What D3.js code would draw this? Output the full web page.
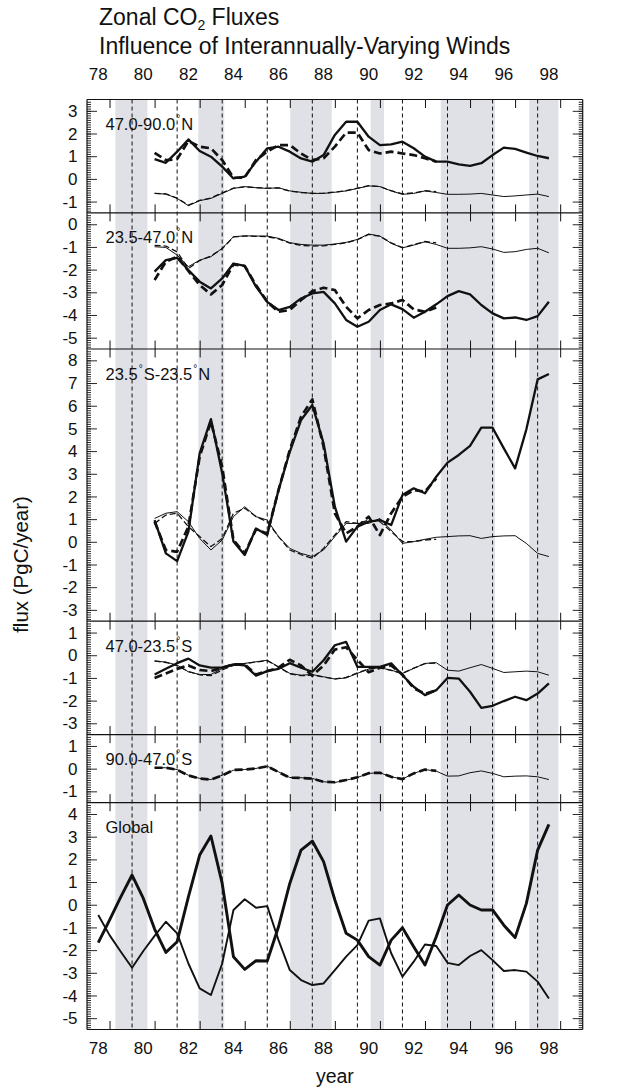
<!DOCTYPE html>
<html>
<head>
<meta charset="utf-8">
<script src="https://cdn.jsdelivr.net/npm/d3@7"></script>
<style>
  html, body { margin: 0; padding: 0; background: #fff; }
  svg { display: block; }
  text { font-family: "Liberation Sans", Arial, Helvetica, sans-serif; fill: #111; }
</style>
</head>
<body>
<div id="chart"></div>
<script>
// ---- Data -----------------------------------------------------------------
// Sampling years (two-digit year, half-year steps)
const yearsFull = [80.5,81,81.5,82,82.5,83,83.5,84,84.5,85,85.5,86,86.5,87,87.5,88,88.5,89,89.5,90,90.5,91,91.5,92,92.5,93,93.5,94,94.5,95,95.5,96,96.5,97,97.5,98];
const yearsShort = [80.5,81,81.5,82,82.5,83,83.5,84,84.5,85,85.5,86,86.5,87,87.5,88,88.5,89,89.5,90,90.5,91,91.5,92,92.5,93];
const yearsGlobal = [78,78.5,79,79.5,80,80.5,81,81.5,82,82.5,83,83.5,84,84.5,85,85.5,86,86.5,87,87.5,88,88.5,89,89.5,90,90.5,91,91.5,92,92.5,93,93.5,94,94.5,95,95.5,96,96.5,97,97.5,98];

// Zone labels and y ranges (PgC/year)
const zoneLabels = ["47.0-90.0°N", "23.5-47.0°N", "23.5°S-23.5°N", "47.0-23.5°S", "90.0-47.0°S", "Global"];
const zoneRanges = [[-1.5, 3.5], [-5.5, 0.5], [-3.5, 8.5], [-3.5, 1.5], [-1.5, 1.5], [-5.5, 4.5]];

// 47.0-90.0 N
const n47SolidThick = [0.87,0.71,1.2,1.74,1.23,0.98,0.54,0.02,0.1,0.76,1.35,1.42,1.2,0.9,0.76,1.05,1.94,2.52,2.52,1.86,1.49,1.52,1.64,1.35,0.98,0.76,0.76,0.64,0.57,0.69,1.05,1.38,1.32,1.16,1.01,0.91];
const n47DashThick  = [1.15,0.83,0.87,1.67,1.42,1.35,0.83,0.05,0.06,0.83,1.2,1.49,1.49,1.12,0.83,0.91,1.42,2.04,2.04,1.27,1.12,1.2,1.12,1.05,0.91,0.76];
const n47SolidThin  = [-0.64,-0.67,-0.86,-1.18,-0.96,-0.86,-0.64,-0.42,-0.34,-0.39,-0.42,-0.39,-0.53,-0.59,-0.64,-0.64,-0.59,-0.53,-0.42,-0.31,-0.34,-0.53,-0.68,-0.64,-0.53,-0.6,-0.68,-0.68,-0.67,-0.64,-0.71,-0.78,-0.75,-0.71,-0.67,-0.78];
const n47DashThin   = [-0.64,-0.66,-0.85,-1.16,-0.95,-0.84,-0.62,-0.41,-0.35,-0.38,-0.41,-0.4,-0.54,-0.6,-0.64,-0.63,-0.58,-0.52,-0.41,-0.3,-0.34,-0.52,-0.66,-0.62,-0.52,-0.56];

// 23.5-47.0 N
const n23SolidThick = [-2.09,-1.58,-1.48,-2.02,-2.53,-2.83,-2.39,-1.73,-1.84,-2.75,-3.42,-3.78,-3.64,-3.27,-3.05,-2.98,-3.49,-4.22,-4.52,-4.3,-3.78,-3.53,-3.74,-4.12,-3.86,-3.53,-3.17,-2.95,-3.09,-3.56,-3.93,-4.15,-4.11,-4.22,-4.05,-3.42];
const n23DashThick  = [-2.46,-1.65,-1.43,-2.06,-2.68,-3.09,-2.68,-1.77,-1.84,-2.68,-3.42,-3.86,-3.78,-3.34,-2.95,-2.8,-2.9,-3.64,-4.15,-3.78,-3.56,-3.49,-3.34,-3.75,-3.86,-3.67];
const n23SolidThin  = [-0.99,-1.02,-1.36,-1.87,-1.58,-1.43,-1.06,-0.55,-0.51,-0.52,-0.52,-0.62,-0.81,-0.89,-0.92,-0.92,-0.87,-0.8,-0.67,-0.43,-0.52,-0.84,-1.04,-0.92,-0.77,-0.89,-1.06,-1.06,-1.04,-0.99,-1.09,-1.24,-1.21,-1.11,-1.06,-1.26];
const n23DashThin   = [-0.93,-0.96,-1.22,-1.95,-1.6,-1.4,-1.08,-0.56,-0.52,-0.53,-0.55,-0.64,-0.83,-0.93,-0.96,-0.95,-0.89,-0.82,-0.68,-0.45,-0.53,-0.82,-1.03,-0.9,-0.76,-0.82];

// 23.5 S - 23.5 N
const trSolidThick = [0.96,-0.51,-0.85,0.45,3.9,5.41,3.02,0.01,-0.58,0.59,0.3,2.28,3.97,5.37,6.03,4.34,1.55,0.01,0.67,0.89,0.96,0.74,2.06,2.36,2.14,2.87,3.49,3.83,4.23,5.03,5.03,4.12,3.24,4.96,7.16,7.4];
const trDashThick  = [0.89,-0.36,-0.44,0.67,3.75,5.3,3.31,0.08,-0.51,0.55,0.37,2.28,4.05,5.52,6.28,4.19,1.26,0.37,0.67,1.11,0.3,1.26,1.99,2.28,2.21,2.8];
const trSolidThin  = [1.03,1.26,1.33,0.89,0.15,-0.36,0.08,1.11,1.55,1.11,0.96,0.23,-0.29,-0.51,-0.65,-0.36,0.23,0.81,0.81,0.81,1.03,0.52,-0.07,0.01,0.11,0.2,0.23,0.26,0.27,0.15,0.23,0.26,0.27,-0.07,-0.51,-0.65];
const trDashThin   = [0.81,1.18,1.26,0.67,0.23,-0.21,0.15,1.26,1.48,1.11,0.89,0.23,-0.36,-0.56,-0.73,-0.29,0.3,0.89,0.81,0.96,0.89,0.45,0.01,0.01,0.08,0.11];

// 47.0-23.5 S
const s23SolidThick = [-0.85,-0.6,-0.35,-0.15,-0.45,-0.55,-0.55,-0.4,-0.45,-0.9,-0.7,-0.6,-0.35,-0.55,-0.73,-0.22,0.44,0.59,-0.51,-0.51,-0.51,-0.36,-0.88,-1.39,-1.76,-1.54,-1.0,-1.03,-1.61,-2.32,-2.23,-2.02,-1.83,-1.98,-1.69,-1.24];
const s23DashThick  = [-1.0,-0.8,-0.6,-0.45,-0.65,-0.7,-0.55,-0.4,-0.4,-0.85,-0.7,-0.55,-0.2,-0.45,-0.9,-0.45,0.25,0.35,-0.2,-0.75,-0.55,-0.45,-0.85,-1.45,-1.7,-1.55];
const s23SolidThin  = [-0.26,-0.3,-0.44,-0.73,-0.85,-0.85,-0.58,-0.44,-0.36,-0.29,-0.22,-0.51,-0.8,-0.88,-0.85,-0.95,-1.05,-1.0,-0.8,-0.61,-0.55,-0.66,-0.8,-0.58,-0.36,-0.33,-0.66,-0.7,-0.55,-0.41,-0.58,-0.76,-0.73,-0.7,-0.73,-0.88];
const s23DashThin   = [-0.25,-0.32,-0.46,-0.72,-0.86,-0.9,-0.65,-0.45,-0.37,-0.3,-0.24,-0.52,-0.82,-0.9,-0.88,-0.96,-1.04,-0.98,-0.78,-0.6,-0.56,-0.67,-0.8,-0.57,-0.37,-0.34];

// 90.0-47.0 S
const s47SolidThin = [0.04,0.04,-0.04,-0.29,-0.43,-0.48,-0.29,-0.07,-0.04,0.01,0.11,-0.14,-0.39,-0.4,-0.43,-0.58,-0.61,-0.51,-0.39,-0.21,-0.18,-0.36,-0.46,-0.21,-0.04,-0.11,-0.33,-0.32,-0.18,-0.1,-0.21,-0.36,-0.33,-0.32,-0.36,-0.48];
const s47DashThick = [0.04,0.04,-0.05,-0.3,-0.44,-0.48,-0.3,-0.06,-0.04,0.01,0.1,-0.15,-0.4,-0.41,-0.44,-0.58,-0.6,-0.5,-0.38,-0.2,-0.18,-0.36,-0.46,-0.21,-0.04,-0.1];

// Global
const globalThick = [-1.67,-0.68,0.35,1.31,0.28,-1.07,-2.1,-1.63,0.35,2.19,3.03,0.94,-2.29,-2.85,-2.47,-2.48,-0.97,0.94,2.41,2.81,1.9,0.21,-1.26,-1.56,-2.29,-2.66,-1.56,-1.01,-1.85,-2.66,-1.41,-0.01,0.43,-0.01,-0.23,-0.23,-0.9,-1.45,0.06,2.41,3.54];
const globalThin  = [-0.45,-1.34,-2.07,-2.78,-2.04,-1.37,-0.75,-1.26,-2.59,-3.69,-3.98,-2.59,-0.23,0.24,-0.13,-0.06,-1.56,-2.88,-3.32,-3.54,-3.47,-2.88,-2.29,-1.78,-0.7,-0.6,-2.14,-3.17,-2.51,-1.75,-1.82,-2.56,-2.66,-2.26,-2.0,-2.44,-2.92,-2.88,-2.95,-3.39,-4.13];

// Shaded periods and reference lines (years)
const shadedPeriods = [[78.76, 80.18], [82.44, 83.59], [86.52, 88.36], [90.09, 90.68], [93.2, 95.61], [97.13, 98.42]];
const dashedYears = [79.5, 81.5, 83.5, 85.5, 87.5, 89.5, 91.5, 93.5, 95.5, 97.5];
const tickYears = [78.5, 80.5, 82.5, 84.5, 86.5, 88.5, 90.5, 92.5, 94.5, 96.5, 98.5];
const yearLabels = [78, 80, 82, 84, 86, 88, 90, 92, 94, 96, 98];

// ---- Series styling ---------------------------------------------------------
const STYLE = {
  solidThick: { w: 2.3, dash: null },
  dashThick:  { w: 2.7, dash: "8,4" },
  solidThin:  { w: 1.0, dash: null },
  dashThin:   { w: 1.3, dash: "6,3" },
  globalThick:{ w: 2.9, dash: null },
  globalThin: { w: 1.9, dash: null }
};

const panelSeries = [
  [["solidThin", yearsFull, n47SolidThin], ["dashThin", yearsShort, n47DashThin], ["solidThick", yearsFull, n47SolidThick], ["dashThick", yearsShort, n47DashThick]],
  [["solidThin", yearsFull, n23SolidThin], ["dashThin", yearsShort, n23DashThin], ["solidThick", yearsFull, n23SolidThick], ["dashThick", yearsShort, n23DashThick]],
  [["solidThin", yearsFull, trSolidThin], ["dashThin", yearsShort, trDashThin], ["solidThick", yearsFull, trSolidThick], ["dashThick", yearsShort, trDashThick]],
  [["solidThin", yearsFull, s23SolidThin], ["dashThin", yearsShort, s23DashThin], ["solidThick", yearsFull, s23SolidThick], ["dashThick", yearsShort, s23DashThick]],
  [["solidThin", yearsFull, s47SolidThin], ["dashThick", yearsShort, s47DashThick]],
  [["globalThin", yearsGlobal, globalThin], ["globalThick", yearsGlobal, globalThick]]
];

// ---- Layout ---------------------------------------------------------------
const W = 627, H = 1091;
const plotLeft = 87, plotRight = 582.7, plotTop = 99.5, plotBottom = 1029.5;
const totalUnits = d3.sum(zoneRanges, r => r[1] - r[0]);
const unitPx = (plotBottom - plotTop) / totalUnits;

const svg = d3.select("#chart").append("svg").attr("width", W).attr("height", H);

const x = d3.scaleLinear().domain([77.5, 99.5]).range([plotLeft, plotRight]);

// Shaded periods across all panels
svg.append("g").selectAll("rect").data(shadedPeriods).join("rect")
  .attr("x", d => x(d[0])).attr("width", d => x(d[1]) - x(d[0]))
  .attr("y", plotTop).attr("height", plotBottom - plotTop)
  .attr("fill", "#e0e1e6");

// Vertical dashed reference lines
svg.append("g").selectAll("line").data(dashedYears).join("line")
  .attr("x1", d => x(d)).attr("x2", d => x(d))
  .attr("y1", plotTop).attr("y2", plotBottom)
  .attr("stroke", "#111").attr("stroke-width", 1).attr("stroke-dasharray", "4,3");

// Panels
let yCursor = plotTop;
zoneRanges.forEach((range, i) => {
  const h = (range[1] - range[0]) * unitPx;
  const top = yCursor, bottom = yCursor + h;
  yCursor = bottom;
  const y = d3.scaleLinear().domain(range).range([bottom, top]);
  const g = svg.append("g");

  // Left/right axes: major ticks every 1, minor every 0.1, labels on integers
  const majors = d3.range(Math.ceil(range[0]), Math.floor(range[1]) + 1);
  const minors = d3.range(Math.round(range[0] * 10) + 1, Math.round(range[1] * 10)).map(v => v / 10);
  [[plotLeft, d3.axisRight], [plotRight, d3.axisLeft]].forEach(([xp, axisFn]) => {
    const mn = g.append("g").attr("transform", `translate(${xp},0)`)
      .call(axisFn(y).tickValues(minors).tickSize(4).tickFormat(""));
    mn.select(".domain").remove();
    const mj = g.append("g").attr("transform", `translate(${xp},0)`)
      .call(axisFn(y).tickValues(majors).tickSize(10).tickFormat(""));
    mj.select(".domain").remove();
  });
  g.selectAll(".tick line").attr("stroke", "#111").attr("stroke-width", 0.9);

  g.append("g").selectAll("text").data(majors).join("text")
    .attr("x", plotLeft - 9.5).attr("y", d => y(d))
    .attr("dy", "0.36em").attr("text-anchor", "end")
    .style("font-size", "17px").text(d => d);

  // Year ticks at the top and bottom of each panel (pointing inward)
  const topAx = g.append("g").attr("transform", `translate(0,${top})`)
    .call(d3.axisBottom(x).tickValues(tickYears).tickSize(8.5).tickFormat(""));
  topAx.select(".domain").remove();
  const botAx = g.append("g").attr("transform", `translate(0,${bottom})`)
    .call(d3.axisTop(x).tickValues(tickYears).tickSize(8.5).tickFormat(""));
  botAx.select(".domain").remove();
  topAx.selectAll(".tick line").attr("stroke", "#111").attr("stroke-width", 1);
  botAx.selectAll(".tick line").attr("stroke", "#111").attr("stroke-width", 1);

  // Series
  const line = d3.line().x(d => x(d[0])).y(d => y(d[1]));
  panelSeries[i].forEach(([kind, yrs, vals]) => {
    const st = STYLE[kind];
    g.append("path")
      .datum(yrs.map((yr, k) => [yr, vals[k]]))
      .attr("d", line)
      .attr("fill", "none")
      .attr("stroke", "#111")
      .attr("stroke-width", st.w)
      .attr("stroke-linejoin", "round")
      .attr("stroke-dasharray", st.dash);
  });

  // Panel separator / frame line
  g.append("line").attr("x1", plotLeft).attr("x2", plotRight)
    .attr("y1", bottom).attr("y2", bottom).attr("stroke", "#111").attr("stroke-width", 1.2);
  if (i === 0) {
    g.append("line").attr("x1", plotLeft).attr("x2", plotRight)
      .attr("y1", top).attr("y2", top).attr("stroke", "#111").attr("stroke-width", 1.2);
  }

  // Zone label, degree sign drawn as a raised small glyph
  const lbl = g.append("text").attr("x", 105.5).attr("y", top + 30.5).style("font-size", "16.5px");
  const parts = zoneLabels[i].split("°");
  parts.forEach((p, k) => {
    if (k > 0) {
      lbl.append("tspan").attr("dx", 1).attr("dy", -8).style("font-size", "10px").text("°");
      lbl.append("tspan").attr("dx", 1).attr("dy", 8).text(p);
    } else {
      lbl.append("tspan").text(p);
    }
  });
});

// Frame sides
svg.append("line").attr("x1", plotLeft).attr("x2", plotLeft).attr("y1", plotTop).attr("y2", plotBottom)
  .attr("stroke", "#111").attr("stroke-width", 1.2);
svg.append("line").attr("x1", plotRight).attr("x2", plotRight).attr("y1", plotTop).attr("y2", plotBottom)
  .attr("stroke", "#111").attr("stroke-width", 1.2);

// Year labels, top and bottom
svg.append("g").selectAll("text").data(yearLabels).join("text")
  .attr("x", d => x(d)).attr("y", 80).attr("text-anchor", "middle")
  .style("font-size", "17px").text(d => d);
svg.append("g").selectAll("text").data(yearLabels).join("text")
  .attr("x", d => x(d)).attr("y", 1053.5).attr("text-anchor", "middle")
  .style("font-size", "17px").text(d => d);

// Axis titles
svg.append("text").attr("x", (plotLeft + plotRight) / 2).attr("y", 1083)
  .attr("text-anchor", "middle").style("font-size", "19.5px").text("year");
svg.append("text").attr("transform", `translate(28,${(plotTop + plotBottom) / 2}) rotate(-90)`)
  .attr("text-anchor", "middle").style("font-size", "20.5px").text("flux (PgC/year)");

// Title, two lines
const t1 = svg.append("text").attr("x", 99).attr("y", 25).style("font-size", "23px");
t1.append("tspan").text("Zonal CO");
t1.append("tspan").attr("dy", 5).style("font-size", "14px").text("2");
t1.append("tspan").attr("dy", -5).text(" Fluxes");
svg.append("text").attr("x", 99).attr("y", 53.5).style("font-size", "23px")
  .text("Influence of Interannually-Varying Winds");
</script>
</body>
</html>
